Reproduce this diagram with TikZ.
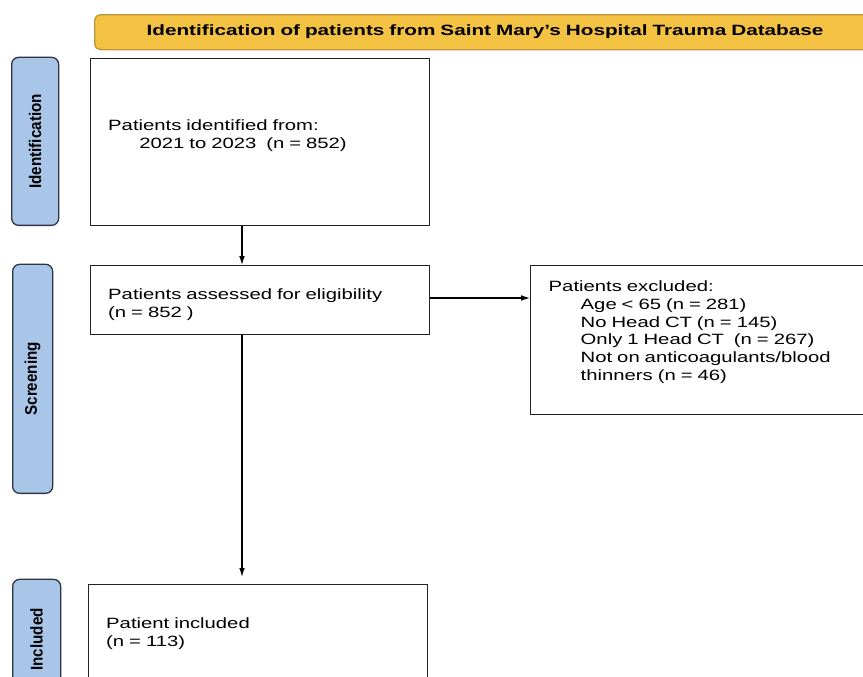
\documentclass[tikz,border=0pt]{standalone}
\usepackage{fontspec}
\setmainfont{Liberation Sans}
\newfontfamily\boxfont[FakeStretch=1.36]{Liberation Sans}
\newfontfamily\titlefont[FakeStretch=1.39]{Liberation Sans}
\newfontfamily\phasefont[FakeStretch=0.9]{Liberation Sans}
\usepackage{xcolor}
\usetikzlibrary{arrows.meta,positioning}

\definecolor{bannerfill}{HTML}{F4C242}
\definecolor{bannerline}{HTML}{B8963A}
\definecolor{phasefill}{HTML}{A9C5E8}
\definecolor{phaseline}{HTML}{2E3440}
\definecolor{boxline}{HTML}{222222}

\begin{document}
\begin{tikzpicture}[
    x=0.025cm, y=-0.025cm,
    banner/.style={draw=bannerline, fill=bannerfill, line width=0.9pt, rounded corners=4pt, minimum height=0.875cm, font=\titlefont\bfseries\fontsize{10.6}{12}\selectfont},
    phase/.style={draw=phaseline, fill=phasefill, line width=0.9pt, rounded corners=5pt, font=\phasefont\bfseries\fontsize{12}{14}\selectfont},
    box/.style={draw=boxline, line width=1pt, align=left, anchor=north west, inner xsep=0.425cm, font=\boxfont\fontsize{10.6}{12.6}\selectfont},
    arr/.style={-{Latex[length=2.2mm,width=1.4mm]}, line width=0.8pt}
]
\useasboundingbox (0,0) rectangle (863,677);
\clip (0,0) rectangle (863,677);

% banner on top
\node[banner, anchor=north west, minimum width=20cm, text width=19.5cm, align=left] (title) at (94,14)
  {\hspace*{1.05cm}Identification of patients from Saint Mary’s Hospital Trauma Database};

% phases on the left
\node[phase, anchor=north west, minimum width=4.2cm, minimum height=1.175cm, rotate=90] (ident) at (11,226) {Identification};
\node[phase, anchor=north west, minimum width=5.725cm, minimum height=1.0cm, rotate=90] (screen) at (12,494) {Screening};
\node[phase, anchor=north west, minimum width=3.0cm, minimum height=1.2cm, rotate=90] (incl) at (12,700) {Included};

% flow boxes
\node[box, minimum width=8.475cm, text width=7.6cm, minimum height=4.175cm, text depth=0.85cm] (found) at (90,58)
  {Patients identified from:\\\hspace*{0.78cm}2021 to 2023\ \ (n = 852)};
\node[box, minimum width=8.475cm, text width=7.6cm, minimum height=1.725cm, text depth=0.3cm] (elig) at (90,265)
  {Patients assessed for eligibility\\(n = 852 )};
\node[box, minimum width=9.5cm, text width=8.6cm, minimum height=3.725cm, text depth=2.7cm] (excl) at (530,265)
  {Patients excluded:\\
   \hspace*{0.8cm}Age < 65 (n = 281)\\
   \hspace*{0.8cm}No Head CT (n = 145)\\
   \hspace*{0.8cm}Only 1 Head CT\ \ (n = 267)\\
   \hspace*{0.8cm}Not on anticoagulants/blood\\
   \hspace*{0.8cm}thinners (n = 46)};
\node[box, minimum width=8.475cm, text width=7.6cm, minimum height=2.45cm] (incbox) at (88,584)
  {Patient included\\(n = 113)};

% arrows
\draw[arr] (found.south -| 242,0) -- (elig.north -| 242,0);
\draw[arr] (elig.south -| 242,0) -- ([yshift=0.18cm]incbox.north -| 242,0);
\draw[arr] (elig.east |- 0,298) -- (excl.west |- 0,298);
\end{tikzpicture}
\end{document}
